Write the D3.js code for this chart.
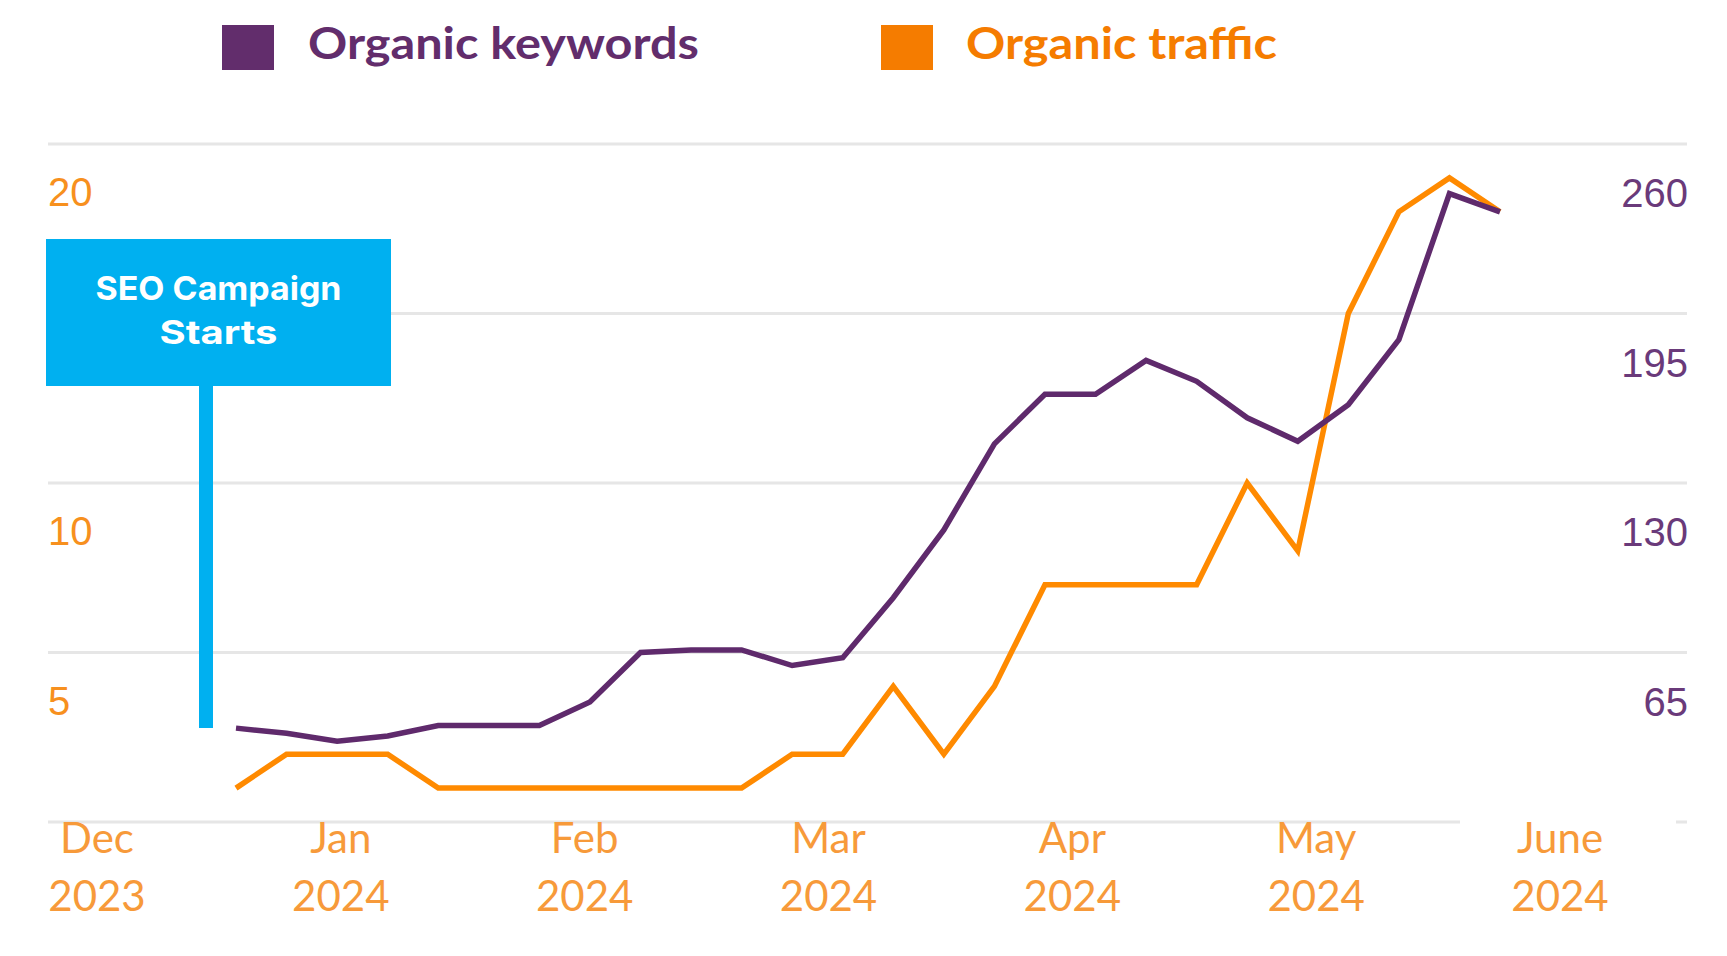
<!DOCTYPE html>
<html>
<head>
<meta charset="utf-8">
<script src="https://cdn.jsdelivr.net/npm/d3@7"></script>
<style>
  html, body { margin: 0; padding: 0; background: #ffffff; }
  svg { display: block; }
</style>
</head>
<body>
<svg id="chart" width="1727" height="956"></svg>
<script>
// ---------- data ----------
const weeks = d3.range(1, 27).map(i => "W" + i);           // 26 weekly observations
const organicKeywords = [36, 34, 31, 33, 37, 37, 37, 46, 65, 66, 66, 60, 63, 86, 112, 145, 164, 164, 177, 169, 155, 146, 160, 185, 241, 234];
const organicTraffic  = [1, 2, 2, 2, 1, 1, 1, 1, 1, 1, 1, 2, 2, 4, 2, 4, 7, 7, 7, 7, 10, 8, 15, 18, 19, 18];
const monthLabels = [["Dec", "2023"], ["Jan", "2024"], ["Feb", "2024"], ["Mar", "2024"], ["Apr", "2024"], ["May", "2024"], ["June", "2024"]];
const leftTicks  = [20, 10, 5];
const rightTicks = [260, 195, 130, 65];
const gridValues = [0, 5, 10, 15, 20];
const seriesNames = ["Organic keywords", "Organic traffic"];
const annotationText = ["SEO Campaign", "Starts"];

// ---------- styles ----------
const PURPLE = "#622d6c";
const PURPLE_LINE = "#5f2a6c";
const PURPLE_TEXT = "#6a3a7a";
const ORANGE = "#f57c00";
const ORANGE_LINE = "#ff8a00";
const ORANGE_TEXT = "#f7901e";
const MONTH_TEXT = "#f79a3a";
const BLUE = "#00b0f0";
const GRID = "#e6e6e6";

const svg = d3.select("#chart");

// ---------- scales ----------
const x = d3.scalePoint().domain(weeks).range([236, 1500]);
const yLeft = d3.scaleLinear().domain([0, 20]).range([822, 144]);
const yRight = d3.scaleLinear().domain([0, 260]).range([822, 144]);
const xMonth = d3.scalePoint().domain(monthLabels.map(d => d[0])).range([97, 1560]);

// ---------- gridlines ----------
svg.append("g").selectAll("line").data(gridValues).join("line")
  .attr("x1", 48).attr("x2", 1687)
  .attr("y1", d => yLeft(d)).attr("y2", d => yLeft(d))
  .attr("stroke", GRID).attr("stroke-width", 3);

// ---------- left axis labels (traffic) ----------
svg.append("g").selectAll("text").data(leftTicks).join("text")
  .attr("x", 48).attr("y", d => yLeft(d) + 62)
  .attr("font-family", "Liberation Sans, Arial, sans-serif")
  .attr("font-size", 40).attr("fill", ORANGE_TEXT)
  .text(d => d);

// ---------- right axis labels (keywords) ----------
svg.append("g").selectAll("text").data(rightTicks).join("text")
  .attr("x", 1688).attr("y", d => yRight(d) + 63)
  .attr("text-anchor", "end")
  .attr("font-family", "Liberation Sans, Arial, sans-serif")
  .attr("font-size", 40).attr("fill", PURPLE_TEXT)
  .text(d => d);

// ---------- month labels ----------
const mg = svg.append("g");
const lastMonth = monthLabels[monthLabels.length - 1][0];
mg.selectAll("rect").data(monthLabels.filter(d => d[0] === lastMonth)).join("rect")
  .attr("x", d => xMonth(d[0]) - 100).attr("y", 818)
  .attr("width", 216).attr("height", 100).attr("fill", "#ffffff");
const mt = mg.selectAll("text").data(monthLabels).join("text")
  .attr("text-anchor", "middle")
  .attr("font-family", "Lato, 'Open Sans', sans-serif")
  .attr("font-size", 42).attr("fill", MONTH_TEXT);
mt.append("tspan").attr("x", d => xMonth(d[0])).attr("y", 853).text(d => d[0]);
mt.append("tspan").attr("x", d => xMonth(d[0])).attr("y", 911).text(d => d[1]);

// ---------- annotation ----------
const ann = svg.append("g");
ann.append("rect").attr("x", 199).attr("y", 380).attr("width", 14).attr("height", 348).attr("fill", BLUE);
ann.append("rect").attr("x", 46).attr("y", 239).attr("width", 345).attr("height", 147).attr("fill", BLUE);
ann.selectAll("text").data(annotationText).join("text")
  .attr("x", 218.5).attr("y", (d, i) => 300 + i * 44)
  .attr("text-anchor", "middle")
  .attr("font-family", "Inter, 'Open Sans', sans-serif")
  .attr("font-weight", 700).attr("font-size", 33).attr("fill", "#ffffff")
  .attr("textLength", (d, i) => i === 0 ? 246 : 118).attr("lengthAdjust", "spacingAndGlyphs")
  .text(d => d);

// ---------- lines ----------
const lineLeft = d3.line().x((d, i) => x(weeks[i])).y(d => yLeft(d));
const lineRight = d3.line().x((d, i) => x(weeks[i])).y(d => yRight(d));

svg.append("path").datum(organicTraffic)
  .attr("d", lineLeft).attr("fill", "none")
  .attr("stroke", ORANGE_LINE).attr("stroke-width", 5.5).attr("stroke-linejoin", "miter");
svg.append("path").datum(organicKeywords)
  .attr("d", lineRight).attr("fill", "none")
  .attr("stroke", PURPLE_LINE).attr("stroke-width", 5.5).attr("stroke-linejoin", "miter");

// ---------- legend ----------
const legend = [
  { name: seriesNames[0], color: PURPLE, rx: 222, tx: 308, tw: 391 },
  { name: seriesNames[1], color: ORANGE, rx: 881, tx: 966, tw: 311 }
];
const lg = svg.append("g");
lg.selectAll("rect").data(legend).join("rect")
  .attr("x", d => d.rx).attr("y", 25).attr("width", 52).attr("height", 45).attr("fill", d => d.color);
lg.selectAll("text").data(legend).join("text")
  .attr("x", d => d.tx).attr("y", 59)
  .attr("font-family", "Lato, 'Open Sans', sans-serif")
  .attr("font-weight", 700).attr("font-size", 44).attr("fill", d => d.color)
  .attr("textLength", d => d.tw).attr("lengthAdjust", "spacingAndGlyphs")
  .text(d => d.name);
</script>
</body>
</html>
